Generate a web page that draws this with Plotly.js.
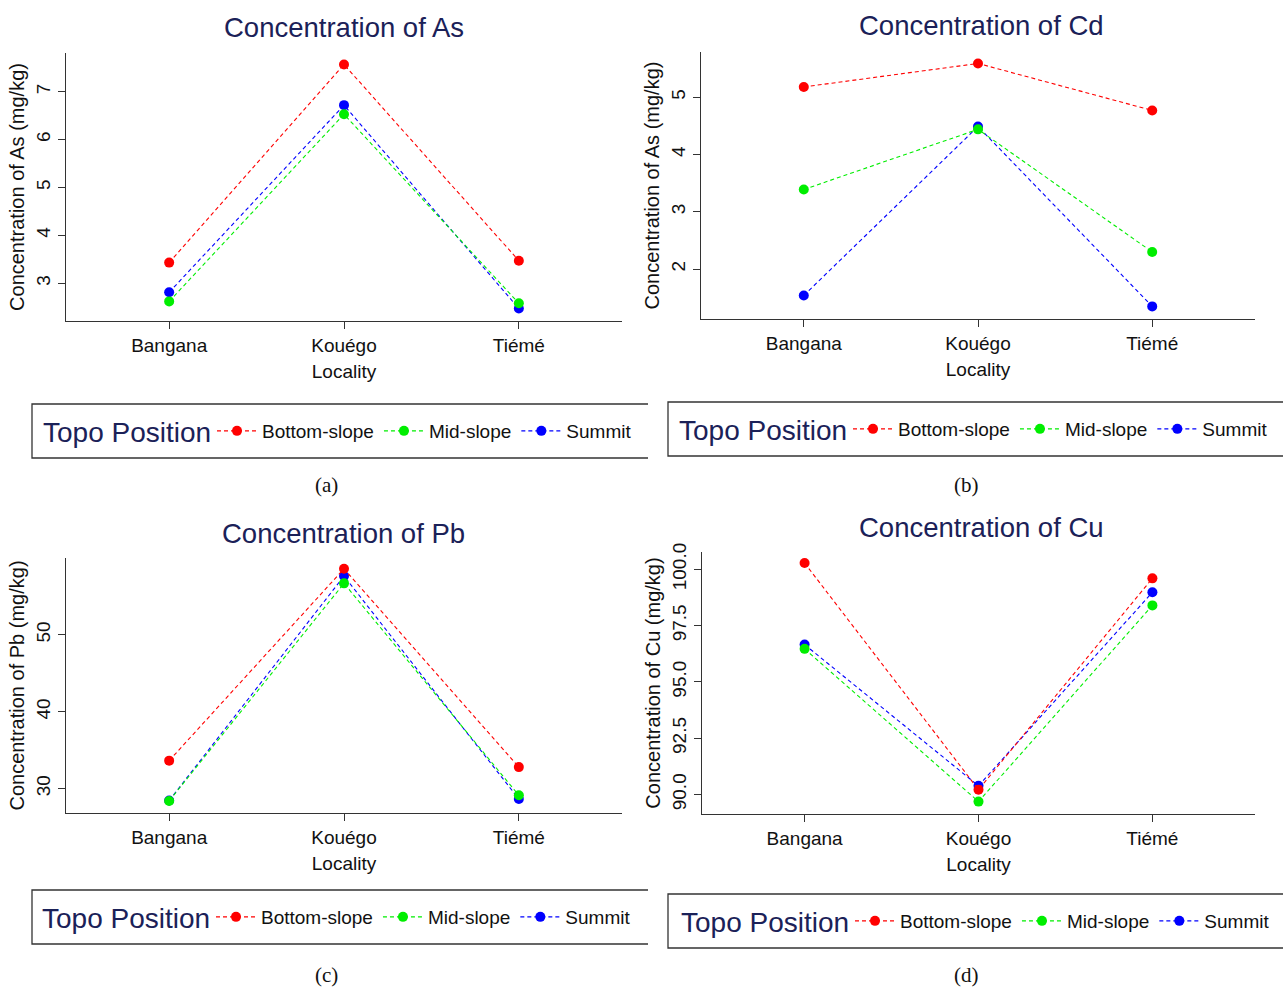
<!DOCTYPE html>
<html>
<head>
<meta charset="utf-8">
<script src="https://cdn.plot.ly/plotly-3.0.1.min.js"></script>
<style>html,body{margin:0;padding:0;background:#fff}#chart{width:1283px;height:988px}</style>
</head>
<body>
<div id="chart"></div>
<script>
// ---- data ----
const localities = ['Bangana', 'Kouégo', 'Tiémé'];
const positions = ['Bottom-slope', 'Mid-slope', 'Summit'];

const asBottom = [3.43, 7.57, 3.47];
const asMid    = [2.62, 6.53, 2.58];
const asSummit = [2.81, 6.72, 2.47];

const cdBottom = [5.18, 5.59, 4.77];
const cdMid    = [3.39, 4.44, 2.30];
const cdSummit = [1.54, 4.49, 1.35];

const pbBottom = [33.64, 58.6, 32.8];
const pbMid    = [28.4, 56.7, 29.13];
const pbSummit = [28.45, 57.65, 28.65];

const cuBottom = [100.28, 90.22, 99.6];
const cuMid    = [96.47, 89.69, 98.4];
const cuSummit = [96.66, 90.39, 98.98];

const panelTitles = ['Concentration of As', 'Concentration of Cd', 'Concentration of Pb', 'Concentration of Cu'];
const yTitles = ['Concentration of As (mg/kg)', 'Concentration of As (mg/kg)', 'Concentration of Pb (mg/kg)', 'Concentration of Cu (mg/kg)'];
const captions = ['(a)', '(b)', '(c)', '(d)'];
const legendTitle = 'Topo Position';
const cuTicks = [90.0, 92.5, 95.0, 97.5, 100.0];

// ---- styling ----
const W = 1283, H = 988;
const colors = {'Bottom-slope': '#ff0000', 'Mid-slope': '#00ee00', 'Summit': '#0000ff'};
const navy = '#1b2158';
const FONT = 'Liberation Sans, Arial, sans-serif';
const px = v => v / W;
const py = v => 1 - v / H;

const panels = [
  {data: [asBottom, asMid, asSummit], xa: 'x', ya: 'y', leg: 'legend'},
  {data: [cdBottom, cdMid, cdSummit], xa: 'x2', ya: 'y2', leg: 'legend2'},
  {data: [pbBottom, pbMid, pbSummit], xa: 'x3', ya: 'y3', leg: 'legend3'},
  {data: [cuBottom, cuMid, cuSummit], xa: 'x4', ya: 'y4', leg: 'legend4'}
];

const traces = [];
panels.forEach(p => {
  // draw summit first, then mid, then bottom (bottom on top)
  [2, 1, 0].forEach(i => {
    const name = positions[i];
    traces.push({
      type: 'scatter', mode: 'lines+markers',
      x: localities, y: p.data[i], name: name,
      xaxis: p.xa, yaxis: p.ya, legend: p.leg,
      line: {color: colors[name], width: 1.1, dash: '4px,3px'},
      marker: {color: colors[name], size: 10},
      hoverinfo: 'x+y+name'
    });
  });
});

function xaxisDef(domain, anchor) {
  return {
    domain: domain, anchor: anchor, type: 'category',
    range: [-0.59, 2.59],
    showline: true, linecolor: '#333', linewidth: 1.3,
    ticks: 'outside', ticklen: 7, tickcolor: '#333', tickwidth: 1.3,
    showgrid: false, zeroline: false,
    tickfont: {family: FONT, size: 19, color: '#111'},
    title: {text: 'Locality', font: {family: FONT, size: 19, color: '#111'}, standoff: 9}
  };
}
function yaxisDef(domain, anchor, range, title, extra) {
  return Object.assign({
    domain: domain, anchor: anchor, range: range,
    showline: true, linecolor: '#333', linewidth: 1.3,
    ticks: 'outside', ticklen: 7, tickcolor: '#333', tickwidth: 1.3,
    showgrid: false, zeroline: false, tickangle: -90,
    tickfont: {family: FONT, size: 19, color: '#111'},
    title: {text: title, font: {family: FONT, size: 20, color: '#111'}, standoff: 3}
  }, extra || {});
}

function legendDef(x, y) {
  return {
    orientation: 'h', x: x, y: y, xanchor: 'left', yanchor: 'middle',
    bgcolor: 'rgba(0,0,0,0)', borderwidth: 0, traceorder: 'reversed',
    font: {family: FONT, size: 19, color: '#111'},
    itemwidth: 40
  };
}

function openBox(x0, x1, y0, y1) {
  return {
    type: 'path', xref: 'paper', yref: 'paper',
    path: `M ${px(x1)},${py(y0)} L ${px(x0)},${py(y0)} L ${px(x0)},${py(y1)} L ${px(x1)},${py(y1)}`,
    line: {color: '#333', width: 1.3}
  };
}

const annotations = [];
const titlePos = [[344, 27], [981, 26], [343, 533], [981, 527]];
const capPos = [[326, 485], [966, 485], [326, 975], [966, 975]];
const legTitlePos = [[42, 432], [678, 430], [41, 918], [680, 922]];
panelTitles.forEach((t, i) => {
  annotations.push({
    text: t, xref: 'paper', yref: 'paper', x: px(titlePos[i][0]), y: py(titlePos[i][1]),
    xanchor: 'center', yanchor: 'middle', showarrow: false,
    font: {family: FONT, size: 27.5, color: navy}
  });
  annotations.push({
    text: captions[i], xref: 'paper', yref: 'paper', x: px(capPos[i][0]), y: py(capPos[i][1]),
    xanchor: 'center', yanchor: 'middle', showarrow: false,
    font: {family: 'Liberation Serif, Times New Roman, serif', size: 21, color: '#111'}
  });
  annotations.push({
    text: legendTitle, xref: 'paper', yref: 'paper', x: px(legTitlePos[i][0]), y: py(legTitlePos[i][1]),
    xanchor: 'left', yanchor: 'middle', showarrow: false, borderpad: 0,
    font: {family: FONT, size: 28, color: navy}
  });
});

const layout = {
  width: W, height: H,
  margin: {l: 0, r: 0, t: 0, b: 0},
  paper_bgcolor: '#fff', plot_bgcolor: '#fff',
  showlegend: true,
  xaxis:  xaxisDef([px(66), px(622)], 'y'),
  yaxis:  yaxisDef([py(321), py(53)], 'x', [2.21, 7.81], yTitles[0], {dtick: 1}),
  xaxis2: xaxisDef([px(701), px(1255)], 'y2'),
  yaxis2: yaxisDef([py(319), py(52)], 'x2', [1.13, 5.79], yTitles[1], {dtick: 1}),
  xaxis3: xaxisDef([px(66), px(622)], 'y3'),
  yaxis3: yaxisDef([py(813), py(558)], 'x3', [26.83, 60.0], yTitles[2], {tickvals: [30, 40, 50]}),
  xaxis4: xaxisDef([px(702), px(1255)], 'y4'),
  yaxis4: yaxisDef([py(814), py(552)], 'x4', [89.14, 100.77], yTitles[3], {tickvals: cuTicks, tickformat: '.1f'}),
  legend:  legendDef(px(212), py(431)),
  legend2: legendDef(px(848), py(429)),
  legend3: legendDef(px(211), py(917)),
  legend4: legendDef(px(850), py(921)),
  shapes: [
    openBox(32, 648, 404, 458),
    openBox(668, 1290, 402, 456),
    openBox(32, 648, 890, 944),
    openBox(668, 1290, 894, 948)
  ],
  annotations: annotations
};

Plotly.newPlot('chart', traces, layout, {displayModeBar: false, responsive: false});
</script>
</body>
</html>
